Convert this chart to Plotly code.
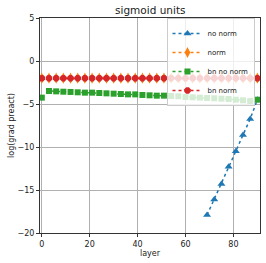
import plotly.graph_objects as go

layers = list(range(0, 91, 3))
no_norm_layers = [69, 72, 75, 78, 81, 84, 87, 90]
no_norm = [-17.9, -16.1, -14.3, -12.3, -10.5, -8.6, -6.74, -4.5]
norm = [-2.0] * len(layers)
bn_no_norm = [-4.26, -3.49, -3.53, -3.57, -3.6, -3.64, -3.68, -3.68, -3.72, -3.76,
              -3.8, -3.84, -3.88, -3.88, -3.95, -3.99, -4.03, -4.03, -4.07, -4.1,
              -4.19, -4.22, -4.26, -4.3, -4.34, -4.38, -4.42, -4.5, -4.57, -4.65, -4.5]
bn_norm = [-2.0] * len(layers)

fig = go.Figure()
fig.add_trace(go.Scatter(x=no_norm_layers, y=no_norm, name="no norm", mode="lines+markers",
                         line=dict(color="#1f77b4", dash="dot", width=1.5),
                         marker=dict(symbol="triangle-up", size=7, color="#1f77b4")))
fig.add_trace(go.Scatter(x=layers, y=norm, name="norm", mode="lines+markers",
                         line=dict(color="#ff7f0e", dash="dot", width=1.5),
                         marker=dict(symbol="diamond-tall", size=8, color="#ff7f0e")))
fig.add_trace(go.Scatter(x=layers, y=bn_no_norm, name="bn no norm", mode="lines+markers",
                         line=dict(color="#2ca02c", dash="dot", width=1.5),
                         marker=dict(symbol="square", size=6, color="#2ca02c")))
fig.add_trace(go.Scatter(x=layers, y=bn_norm, name="bn norm", mode="lines+markers",
                         line=dict(color="#d62728", dash="dot", width=1.5),
                         marker=dict(symbol="octagon", size=7, color="#d62728")))

axis_common = dict(showgrid=True, gridcolor="#b0b0b0", gridwidth=0.8, zeroline=False,
                   showline=True, linecolor="#333", linewidth=1, mirror=True,
                   ticks="outside", ticklen=3, tickcolor="#333", automargin=False,
                   tickfont=dict(size=8, color="#222"))

fig.update_layout(
    width=266, height=263,
    margin=dict(l=40, r=6, t=18, b=30, pad=0),
    paper_bgcolor="white", plot_bgcolor="white",
    font=dict(family="DejaVu Sans", size=8, color="#222"),
    title=dict(text="sigmoid units", x=0.565, xanchor="center", y=0.975, yanchor="top",
               font=dict(size=10.5)),
    xaxis=dict(range=[-0.75, 91.1], tickvals=[0, 20, 40, 60, 80],
               title=dict(text="layer", font=dict(size=8), standoff=1), **axis_common),
    yaxis=dict(range=[-20, 5], tickvals=[5, 0, -5, -10, -15, -20],
               ticktext=["5", "0", "\u22125", "\u221210", "\u221215", "\u221220"],
               title=dict(text="log(grad preact)", font=dict(size=8), standoff=1), **axis_common),
    legend=dict(x=0.975, y=1.0, xanchor="right", yanchor="top",
                bgcolor="rgba(255,255,255,0.8)", bordercolor="#ccc", borderwidth=1,
                font=dict(size=7), tracegroupgap=0, itemwidth=30),
    showlegend=True,
)

fig.write_html("out.html", post_script="document.body.style.margin='0';",
               config={"displayModeBar": False})
